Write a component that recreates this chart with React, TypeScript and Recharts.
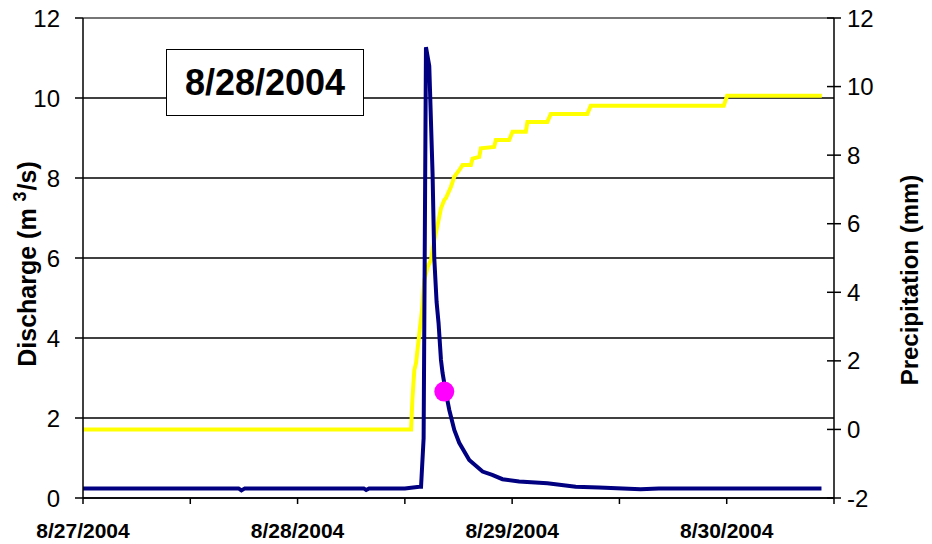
import React from "react";
import {
	LineChart,
	Line,
	XAxis,
	YAxis,
	CartesianGrid,
	ReferenceLine,
	ReferenceDot,
} from "recharts";

const FONT = "'Liberation Sans', Arial, sans-serif";

// hours since 8/27/2004 00:00
const dateLabels = ["8/27/2004", "8/28/2004", "8/29/2004", "8/30/2004"];
const xTicks = [0, 12, 24, 36, 48, 60, 72, 84];
const qTicks = [0, 2, 4, 6, 8, 10, 12];
const pTicks = [-2, 0, 2, 4, 6, 8, 10, 12];

// discharge (m3/s)
const qHours = [
	0, 6, 12, 17.4, 17.72, 18.1, 24, 30, 31.4, 31.67, 32, 36, 37.62, 37.81, 38.1,
	38.36, 38.73, 39.1, 39.29, 39.55, 39.77, 40.04, 40.22, 40.6, 40.97, 41.53,
	42.08, 43.2, 44.69, 45.77, 46.92, 48.78, 51.94, 55.11, 57.71, 62.37, 64.41,
	70, 76, 82.6,
];
const qValues = [
	0.24, 0.24, 0.24, 0.24, 0.19, 0.24, 0.24, 0.24, 0.24, 0.2, 0.24, 0.24, 0.28,
	0.28, 1.5, 11.27, 10.8, 8.1, 6.0, 4.9, 4.37, 3.45, 3.12, 2.62, 2.2, 1.7, 1.38,
	0.95, 0.66, 0.58, 0.47, 0.41, 0.37, 0.28, 0.26, 0.22, 0.24, 0.24, 0.24, 0.24,
];

// cumulative precipitation (mm)
const pHours = [
	0, 36.7, 36.84, 37.06, 37.25, 37.54, 37.7, 37.92, 38.18, 38.55, 38.92, 39.29,
	39.66, 40.04, 40.41, 40.6, 41.16, 41.53, 42.08, 42.45, 43.39, 43.57, 44.32,
	44.5, 45.99, 46.18, 47.67, 48.04, 49.53, 49.71, 51.94, 52.32, 56.41, 56.79,
	71.67, 72.04, 82.64,
];
const pValues = [
	0, 0, 0.86, 1.73, 1.93, 2.61, 2.99, 3.48, 4.36, 4.74, 4.94, 5.52, 5.96, 6.45,
	6.69, 6.75, 7.08, 7.37, 7.56, 7.71, 7.71, 7.9, 7.95, 8.2, 8.24, 8.44, 8.44,
	8.68, 8.68, 8.97, 8.97, 9.2, 9.2, 9.44, 9.44, 9.73, 9.73,
];

// sample point
const sampleHour = 40.41;
const sampleQ = 2.66;

const qData = qHours.map((t, i) => ({ t, q: qValues[i] }));
const pData = pHours.map((t, i) => ({ t, p: pValues[i] }));

const RightTick = (props: any) => {
	const { x, y, payload } = props;
	return (
		<g>
			<line x1={x - 7} x2={x + 7} y1={y} y2={y} stroke='#000' strokeWidth={1.5} />
			<text
				x={x + 13}
				y={y}
				dy='0.355em'
				textAnchor='start'
				fontSize={24}
				fontFamily={FONT}
				fill='#000'>
				{payload.value}
			</text>
		</g>
	);
};

const LeftTitle = () => (
	<text
		x={36}
		y={264}
		transform='rotate(-90 36 264)'
		textAnchor='middle'
		fontSize={25}
		fontWeight='bold'
		fontFamily={FONT}
		fill='#000'>
		Discharge (m{"  "}
		<tspan dy={-10} fontSize={18}>
			3
		</tspan>
		<tspan dy={10} dx={1}>
			/s)
		</tspan>
	</text>
);

const RightTitle = () => (
	<text
		x={918}
		y={280}
		transform='rotate(-90 918 280)'
		textAnchor='middle'
		fontSize={24}
		fontWeight='bold'
		fontFamily={FONT}
		fill='#000'>
		Precipitation (mm)
	</text>
);

const App = () => (
	<div
		style={{
			position: "absolute",
			left: 0,
			top: 0,
			width: 932,
			height: 544,
			background: "#fff",
			fontFamily: FONT,
		}}>
		<LineChart
			width={932}
			height={544}
			margin={{ top: 18, right: 0, bottom: 0, left: 0 }}>
			<CartesianGrid
				yAxisId='q'
				vertical={false}
				stroke='#000'
				strokeWidth={1.5}
			/>
			<XAxis
				type='number'
				dataKey='t'
				domain={[0, 84]}
				ticks={xTicks}
				interval={0}
				height={46}
				stroke='#000'
				strokeWidth={1.5}
				tickSize={6}
				tickMargin={19}
				tick={{ fontSize: 21, fontWeight: "bold", fill: "#000", fontFamily: FONT }}
				tickFormatter={(h: number) => (h % 24 === 0 ? dateLabels[h / 24] : "")}
			/>
			<YAxis
				yAxisId='q'
				orientation='left'
				domain={[0, 12]}
				ticks={qTicks}
				interval={0}
				width={83}
				stroke='#000'
				strokeWidth={1.5}
				tickSize={8}
				tickMargin={15}
				tick={{ fontSize: 24, fill: "#000", fontFamily: FONT }}
				label={<LeftTitle />}
			/>
			<YAxis
				yAxisId='p'
				orientation='right'
				domain={[-2, 12]}
				ticks={pTicks}
				interval={0}
				width={98}
				stroke='#000'
				strokeWidth={1.5}
				tickLine={false}
				tickSize={0}
				tickMargin={0}
				tick={<RightTick />}
				label={<RightTitle />}
			/>
			<ReferenceLine yAxisId='q' y={12} stroke='#888' strokeWidth={1.5} />
			<Line
				yAxisId='p'
				data={pData}
				dataKey='p'
				type='linear'
				stroke='#ffff00'
				strokeWidth={4}
				dot={false}
				isAnimationActive={false}
			/>
			<Line
				yAxisId='q'
				data={qData}
				dataKey='q'
				type='linear'
				stroke='#000080'
				strokeWidth={4}
				dot={false}
				isAnimationActive={false}
			/>
			<ReferenceDot
				yAxisId='q'
				x={sampleHour}
				y={sampleQ}
				r={10}
				fill='#ff00ff'
				stroke='none'
			/>
		</LineChart>
		<div
			style={{
				position: "absolute",
				left: 166,
				top: 49,
				width: 196,
				height: 65,
				border: "1.5px solid #000",
				background: "#fff",
				display: "flex",
				alignItems: "center",
				justifyContent: "center",
				fontSize: 36,
				fontWeight: "bold",
				color: "#000",
			}}>
			8/28/2004
		</div>
	</div>
);

export default App;
